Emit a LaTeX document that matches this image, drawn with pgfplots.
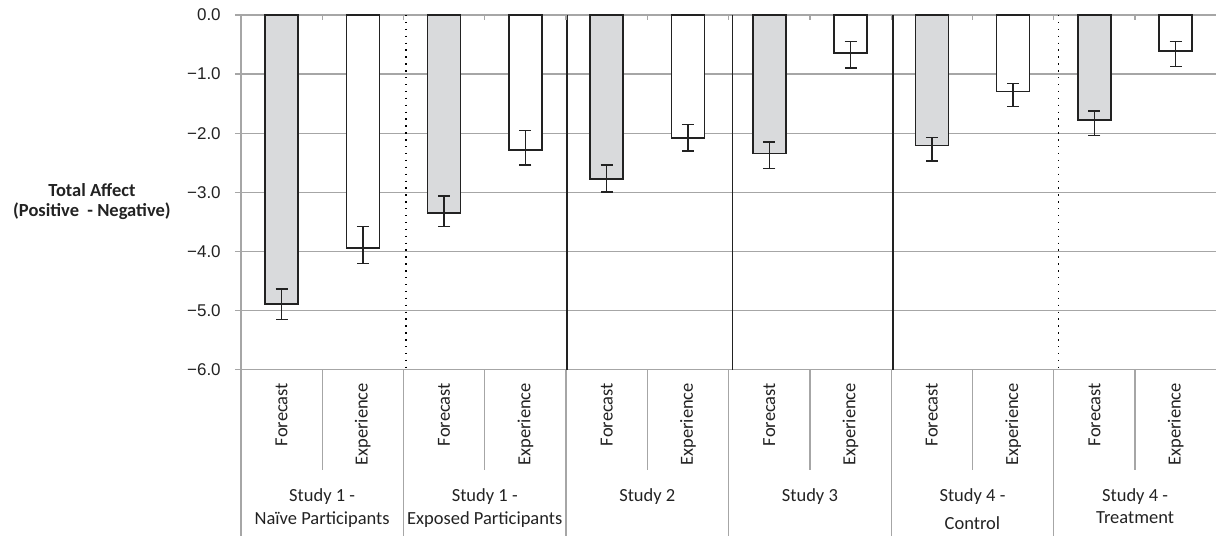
\documentclass[border=0pt]{standalone}
\usepackage{pgfplots}
\pgfplotsset{compat=1.18}
\usepackage{pgfplotstable}
\usepackage{fontspec}
\setmainfont{Carlito}
\newfontfamily\arialf{Liberation Sans}
\definecolor{barfill}{HTML}{D9DADC}
\definecolor{gridgray}{HTML}{A6A6A6}
\definecolor{edge}{HTML}{222222}
\definecolor{txt}{HTML}{222222}
\pgfplotstableread{
x y ep em
0 -4.89 0.26 0.26
2 -3.35 0.29 0.23
4 -2.77 0.23 0.22
6 -2.34 0.19 0.26
8 -2.21 0.14 0.26
10 -1.78 0.16 0.26
}\forecast
\pgfplotstableread{
x y ep em
1 -3.94 0.36 0.26
3 -2.28 0.33 0.26
5 -2.08 0.23 0.22
7 -0.64 0.19 0.26
9 -1.29 0.13 0.26
11 -0.61 0.165 0.26
}\experience
\newcommand{\catfont}{\fontsize{18.5bp}{22.5bp}\selectfont}
\begin{document}
\begin{tikzpicture}
\begin{axis}[
  name=ax,
  scale only axis, width=976bp, height=355bp,
  xmin=-0.5, xmax=11.5, ymin=-6, ymax=0,
  clip=false,
  axis line style={draw=none},
  xtick=\empty,
  ytick={-6,-5,-4,-3,-2,-1,0},
  yticklabels={−6.0,−5.0,−4.0,−3.0,−2.0,−1.0,0.0},
  ytick pos=left,
  tick align=outside,
  major tick length=6bp,
  ytick style={draw=gridgray, line width=1.3bp},
  yticklabel style={font=\arialf\fontsize{17bp}{20bp}\selectfont, text=txt, inner sep=0pt, xshift=-14bp},
  ymajorgrids,
  grid style={draw=gridgray, line width=1.3bp},
]
% invisible bounding box
\path ([xshift=-241bp,yshift=15bp]axis cs:-0.5,0) rectangle ([yshift=-166bp]axis cs:11.5,-6);
% separators in the plot area
\draw[black, line width=1.4bp, dash pattern=on 1.4bp off 5.5bp] (axis cs:1.53,0) -- (axis cs:1.53,-6);
\draw[black, line width=1.4bp, dash pattern=on 1.4bp off 5.5bp] (axis cs:9.56,0) -- (axis cs:9.56,-6);
\draw[edge, line width=1.4bp] (axis cs:3.51,0) -- (axis cs:3.51,-6);
\draw[edge, line width=1.4bp] (axis cs:5.55,0) -- (axis cs:5.55,-6);
\draw[edge, line width=1.4bp] (axis cs:7.52,0) -- (axis cs:7.52,-6);
% left axis line and category separators below
\draw[gridgray, line width=1.3bp] (axis cs:-0.5,0) -- ([yshift=-166bp]axis cs:-0.5,-6);
\draw[gridgray, line width=1.3bp]
  (axis cs:0.5,-6) -- ([yshift=-100bp]axis cs:0.5,-6)
  (axis cs:2.5,-6) -- ([yshift=-100bp]axis cs:2.5,-6)
  (axis cs:4.5,-6) -- ([yshift=-100bp]axis cs:4.5,-6)
  (axis cs:6.5,-6) -- ([yshift=-100bp]axis cs:6.5,-6)
  (axis cs:8.5,-6) -- ([yshift=-100bp]axis cs:8.5,-6)
  (axis cs:10.5,-6) -- ([yshift=-100bp]axis cs:10.5,-6)
  (axis cs:1.5,-6) -- ([yshift=-166bp]axis cs:1.5,-6)
  (axis cs:3.5,-6) -- ([yshift=-166bp]axis cs:3.5,-6)
  (axis cs:5.5,-6) -- ([yshift=-166bp]axis cs:5.5,-6)
  (axis cs:7.5,-6) -- ([yshift=-166bp]axis cs:7.5,-6)
  (axis cs:9.5,-6) -- ([yshift=-166bp]axis cs:9.5,-6);
% top tick marks at category boundaries
\draw[gridgray, line width=1.3bp]
  (axis cs:0.5,0) -- ([yshift=-5bp]axis cs:0.5,0)
  (axis cs:1.5,0) -- ([yshift=-5bp]axis cs:1.5,0)
  (axis cs:2.5,0) -- ([yshift=-5bp]axis cs:2.5,0)
  (axis cs:3.5,0) -- ([yshift=-5bp]axis cs:3.5,0)
  (axis cs:4.5,0) -- ([yshift=-5bp]axis cs:4.5,0)
  (axis cs:5.5,0) -- ([yshift=-5bp]axis cs:5.5,0)
  (axis cs:6.5,0) -- ([yshift=-5bp]axis cs:6.5,0)
  (axis cs:7.5,0) -- ([yshift=-5bp]axis cs:7.5,0)
  (axis cs:8.5,0) -- ([yshift=-5bp]axis cs:8.5,0)
  (axis cs:9.5,0) -- ([yshift=-5bp]axis cs:9.5,0)
  (axis cs:10.5,0) -- ([yshift=-5bp]axis cs:10.5,0);
% bars
\addplot[ybar, bar width=33bp, fill=barfill, draw=edge, line width=1.5bp,
  error bars/.cd, y dir=both, y explicit,
  error bar style={line width=1.5bp, draw=edge},
  error mark options={rotate=90, line width=1.5bp, mark size=6bp, draw=edge}]
  table[x=x, y=y, y error plus=ep, y error minus=em] {\forecast};
\addplot[ybar, bar width=33bp, fill=white, draw=edge, line width=1.5bp,
  error bars/.cd, y dir=both, y explicit,
  error bar style={line width=1.5bp, draw=edge},
  error mark options={rotate=90, line width=1.5bp, mark size=6bp, draw=edge}]
  table[x=x, y=y, y error plus=ep, y error minus=em] {\experience};
% rotated category labels
\foreach \i/\t in {0/Forecast,1/Experience,2/Forecast,3/Experience,4/Forecast,5/Experience,6/Forecast,7/Experience,8/Forecast,9/Experience,10/Forecast,11/Experience}{
  \edef\temp{\noexpand\node[rotate=90, anchor=east, inner sep=0pt, text=txt, font=\noexpand\catfont] at ([yshift=-13bp]axis cs:\i,-6) {\t};}
  \temp
}
% group labels
\node[anchor=base, inner sep=0pt, text=txt, font=\catfont] at ([yshift=-132bp]axis cs:0.5,-6) {Study 1 -};
\node[anchor=base, inner sep=0pt, text=txt, font=\catfont] at ([yshift=-155bp]axis cs:0.5,-6) {Naïve Participants};
\node[anchor=base, inner sep=0pt, text=txt, font=\catfont] at ([yshift=-132bp]axis cs:2.5,-6) {Study 1 -};
\node[anchor=base, inner sep=0pt, text=txt, font=\catfont] at ([yshift=-155bp]axis cs:2.5,-6) {Exposed Participants};
\node[anchor=base, inner sep=0pt, text=txt, font=\catfont] at ([yshift=-132bp]axis cs:4.5,-6) {Study 2};
\node[anchor=base, inner sep=0pt, text=txt, font=\catfont] at ([yshift=-132bp]axis cs:6.5,-6) {Study 3};
\node[anchor=base, inner sep=0pt, text=txt, font=\catfont] at ([yshift=-132bp]axis cs:8.5,-6) {Study 4 -};
\node[anchor=base, inner sep=0pt, text=txt, font=\catfont] at ([yshift=-160bp]axis cs:8.5,-6) {Control};
\node[anchor=base, inner sep=0pt, text=txt, font=\catfont] at ([yshift=-132bp]axis cs:10.5,-6) {Study 4 -};
\node[anchor=base, inner sep=0pt, text=txt, font=\catfont] at ([yshift=-154bp]axis cs:10.5,-6) {Treatment};
% y axis title
\node[anchor=base, inner sep=0pt, text=txt, font=\catfont\bfseries] at ([xshift=-149bp,yshift=-181.7bp]axis cs:-0.5,0) {Total Affect};
\node[anchor=base, inner sep=0pt, text=txt, font=\catfont\bfseries] at ([xshift=-149bp,yshift=-201.7bp]axis cs:-0.5,0) {(Positive\ \ - Negative)};
\end{axis}
\end{tikzpicture}
\end{document}
